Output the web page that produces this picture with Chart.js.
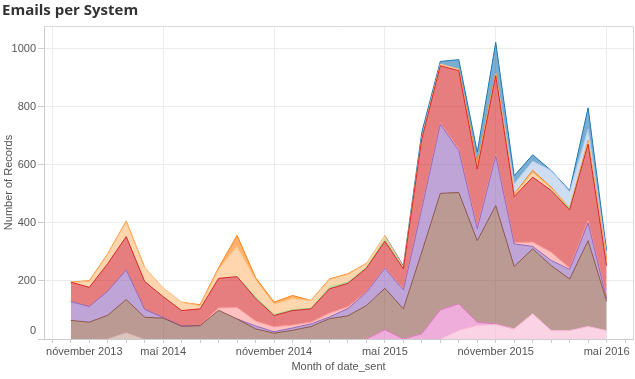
<!DOCTYPE html>
<html><head><meta charset="utf-8">
<script src="https://cdn.jsdelivr.net/npm/chart.js@4"></script>
<style>html,body{margin:0;padding:0;background:#fff}</style>
</head><body>
<canvas id="c" width="635" height="379"></canvas>
<script>
// ---- data ----
const months = ['2013-12','2014-01','2014-02','2014-03','2014-04','2014-05','2014-06','2014-07','2014-08','2014-09','2014-10','2014-11','2014-12',
  '2015-01','2015-02','2015-03','2015-04','2015-05','2015-06','2015-07','2015-08','2015-09','2015-10','2015-11','2015-12',
  '2016-01','2016-02','2016-03','2016-04','2016-05'];
const tickMonths = ['2013-11','2014-05','2014-11','2015-05','2015-11','2016-05'];
const tickLabels = ['nóvember 2013','maí 2014','nóvember 2014','maí 2015','nóvember 2015','maí 2016'];
const yTicks = [0,200,400,600,800,1000];

// stacked from bottom to top
const lightPink  = [0,0,0,0,0,0,0,0,0,0,0,0,0,0,0,0,0,0,0,0,0,30,47,50,35,87,29,29,43,29];
const pink       = [0,0,0,0,0,0,0,0,0,0,0,0,0,0,0,0,0,32,0,18,100,91,11,2,0,0,0,0,0,0];
const lightBrown = [0,0,2,23,0,0,0,0,0,0,0,0,0,0,0,0,0,0,0,0,0,0,0,0,0,0,0,0,0,0];
const brown      = [64,58,80,113,75,72,44,46,99,69,35,20,30,43,70,80,115,143,104,282,402,384,281,408,215,224,224,178,296,101];
const purple     = [65,54,83,102,27,2,1,0,0,0,10,5,8,9,6,25,46,69,65,150,239,145,41,172,78,8,18,33,61,9];
const lightRed   = [0,0,0,0,0,0,0,0,8,40,17,17,10,6,13,6,2,2,3,4,4,5,6,6,4,15,28,5,8,5];
const red        = [67,66,95,115,96,72,53,58,102,106,78,39,50,46,84,81,81,91,70,236,197,270,200,270,159,224,213,200,264,109];
const lightGreen = [0,0,0,0,0,0,0,0,0,0,5,3,3,2,5,4,3,6,0,0,0,0,0,0,0,0,0,4,0,0];
const lightOrange= [0,21,33,53,49,30,29,11,33,105,60,37,39,27,27,27,14,14,6,5,6,5,10,6,6,17,8,3,8,17];
const orange     = [0,2,1,1,0,0,0,3,4,37,7,6,10,0,2,2,0,0,0,0,0,0,8,4,3,6,3,0,4,6];
const lightBlue  = [0,0,0,0,0,0,0,0,0,0,0,0,0,0,0,0,0,0,0,0,0,0,0,0,35,32,58,56,40,14];
const blue       = [0,0,0,0,0,0,0,0,0,0,0,0,0,0,0,0,0,0,4,18,9,33,40,105,28,22,0,4,73,15];

const series = [
  ['light pink', lightPink, '247,182,210'],
  ['pink', pink, '227,119,194'],
  ['light brown', lightBrown, '196,156,148'],
  ['brown', brown, '140,86,75'],
  ['purple', purple, '148,103,189'],
  ['light red', lightRed, '255,152,150'],
  ['red', red, '214,39,40'],
  ['light green', lightGreen, '152,223,138'],
  ['light orange', lightOrange, '255,187,120'],
  ['orange', orange, '255,127,14'],
  ['light blue', lightBlue, '174,199,232'],
  ['blue', blue, '31,119,180']
];

function monthOffset(s){ const [y,m] = s.split('-').map(Number); return (y-2013)*12 + (m-11); }
const tickOffsets = tickMonths.map(monthOffset);
const lastTick = monthOffset('2016-06');

const toPoints = vals => vals.map((v,i) => ({x: monthOffset(months[i]), y: v}));

// filled areas (stack 'area'), drawn behind
const areaSets = series.map(([name, vals, rgb], k) => ({
  label: name,
  data: toPoints(vals),
  stack: 'area',
  order: 2,
  borderWidth: 0,
  borderColor: 'rgba(0,0,0,0)',
  backgroundColor: 'rgba(' + rgb + ',0.6)',
  pointRadius: 0,
  tension: 0,
  fill: k === 0 ? 'origin' : '-1'
}));
// top edge lines (stack 'edge'), drawn on top; hidden where a series is empty
const edgeSets = series.map(([name, vals, rgb]) => ({
  label: name + ' edge',
  data: toPoints(vals),
  stack: 'edge',
  order: 1,
  borderWidth: 1,
  borderColor: 'rgb(' + rgb + ')',
  pointRadius: 0,
  tension: 0,
  fill: false,
  segment: {
    borderColor: ctx => (ctx.p0.parsed.y === 0 && ctx.p1.parsed.y === 0) ? 'rgba(0,0,0,0)' : undefined
  }
}));

const FONT = '"Liberation Sans", Arial, sans-serif';
const extras = {
  id: 'extras',
  afterDraw(chart) {
    const {ctx, chartArea: ca} = chart;
    const xs = chart.scales.x, ys = chart.scales.y;
    ctx.save();
    ctx.strokeStyle = '#d9d9d9'; ctx.lineWidth = 1;
    ctx.beginPath();
    ctx.moveTo(ca.left, Math.round(ca.top) + 0.5);
    ctx.lineTo(Math.round(ca.right) + 0.5, Math.round(ca.top) + 0.5);
    ctx.lineTo(Math.round(ca.right) + 0.5, ca.bottom);
    ctx.stroke();
    ctx.font = '11px ' + FONT;
    ctx.fillStyle = '#555';
    ctx.textBaseline = 'middle';
    ctx.textAlign = 'center';
    ctx.fillText(tickLabels[0], xs.getPixelForValue(tickOffsets[0]) + 32, xs.top + 4 + 2 + 6.6);
    ctx.textAlign = 'right';
    ctx.fillText(String(yTicks[0]), ys.right - 8, ys.getPixelForValue(yTicks[0]) - 8);
    ctx.restore();
  }
};

new Chart(document.getElementById('c'), {
  type: 'line',
  data: { datasets: areaSets.concat(edgeSets) },
  plugins: [extras],
  options: {
    responsive: false,
    animation: false,
    devicePixelRatio: 1,
    layout: { padding: { left: 2, right: 2, top: 0, bottom: 0 } },
    plugins: {
      legend: { display: false },
      tooltip: { enabled: false },
      title: {
        display: true, text: 'Emails per System', align: 'start', color: '#333',
        font: { family: '"Open Sans", sans-serif', size: 15, weight: 'bold' },
        padding: { top: 2, bottom: 6 }
      }
    },
    scales: {
      x: {
        type: 'linear', min: -0.45, max: 31.43,
        afterBuildTicks: s => { const t = []; for (let i = 0; i <= lastTick; i++) t.push({value: i}); s.ticks = t; },
        afterFit: s => { s.height = 40; },
        ticks: {
          autoSkip: false, maxRotation: 0, padding: 2,
          font: { family: FONT, size: 11 },
          color: ctx => ctx.tick && ctx.tick.value === tickOffsets[0] ? 'rgba(0,0,0,0)' : '#555',
          callback: v => { const k = tickOffsets.indexOf(v); return k >= 0 ? tickLabels[k] : ''; }
        },
        grid: {
          color: ctx => (ctx.tick && tickOffsets.includes(ctx.tick.value)) ? '#ececec' : 'rgba(0,0,0,0)',
          tickColor: '#cccccc', tickLength: 4
        },
        border: { color: '#cccccc' },
        title: { display: true, text: 'Month of date_sent', color: '#555', font: { family: FONT, size: 11 }, padding: { top: 0, bottom: 5 } }
      },
      y: {
        stacked: true, min: 0, max: 1079,
        afterBuildTicks: s => { s.ticks = yTicks.map(v => ({value: v})); },
        afterFit: s => { s.width = 42; },
        ticks: {
          padding: 2, font: { family: FONT, size: 11 },
          callback: v => String(v),
          color: ctx => ctx.tick && ctx.tick.value === yTicks[0] ? 'rgba(0,0,0,0)' : '#555'
        },
        grid: { color: '#ebebeb', tickColor: '#cccccc', tickLength: 6 },
        border: { color: '#cccccc' },
        title: { display: true, text: 'Number of Records', color: '#555', font: { family: FONT, size: 11 }, padding: { top: 0, bottom: 0 } }
      }
    }
  }
});
</script>
</body></html>
